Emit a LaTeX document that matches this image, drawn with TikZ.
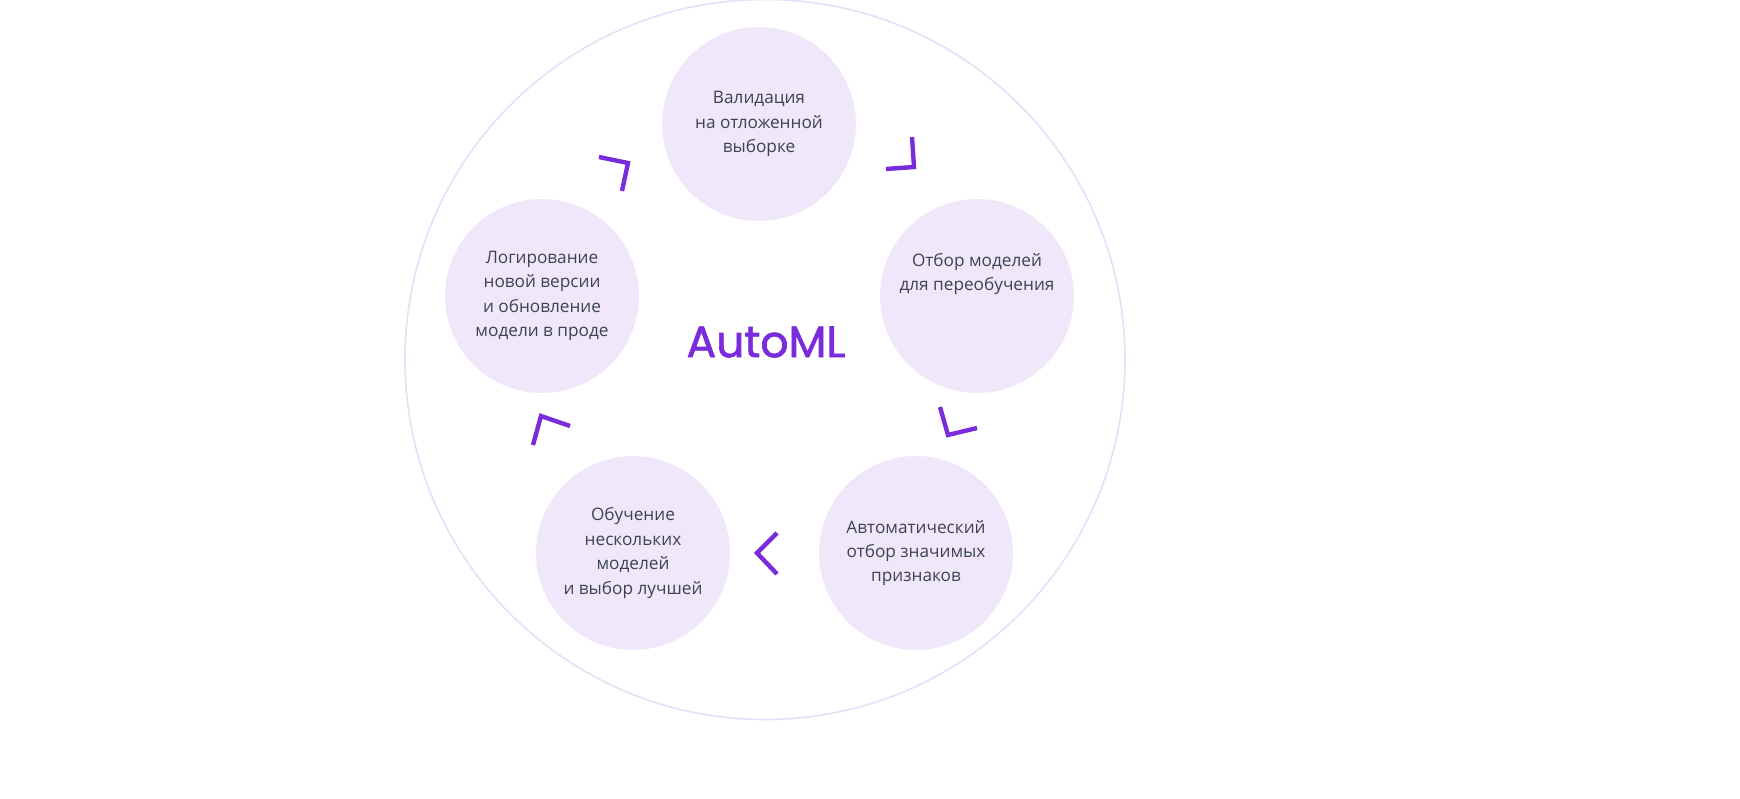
\documentclass[tikz,border=0pt]{standalone}
\usepackage{fontspec}
\setmainfont{Open Sans}
\newfontfamily\titlefont{Poppins}
\definecolor{cfill}{HTML}{F0E8FA}
\definecolor{ctext}{HTML}{3D4256}
\definecolor{cpur}{HTML}{7A2BDB}
\definecolor{cring}{HTML}{DDE3F8}
\begin{document}
\begin{tikzpicture}[x=0.5pt,y=-0.5pt,
  stage/.style={circle,fill=cfill,minimum size=97pt,inner sep=0pt,align=center,text=ctext,font=\fontsize{8.6}{12.2}\selectfont},
  chev/.style={draw=cpur,line width=2.2pt,line cap=butt,line join=miter}]
\useasboundingbox (0,0) rectangle (1740,798);
\node[circle,draw=cring,line width=0.8pt,minimum size=360pt,inner sep=0pt] (ring) at (765,359.5) {};
\node[stage] (a) at (759,124) {Валидация\\на отложенной\\выборке};
\node[stage] (b) at (977,296) {Отбор моделей\\для переобучения\\[12pt]};
\node[stage] (c) at (916,553) {Автоматический\\отбор значимых\\признаков};
\node[stage] (d) at (633,553) {Обучение\\нескольких\\моделей\\и выбор лучшей};
\node[stage] (e) at (542,296) {Логирование\\новой версии\\и обновление\\модели в проде};
\node[text=cpur,font=\fontsize{22}{28}\titlefont,
  postaction={}] (t) at (766,342) {\special{pdf:literal direct 2 Tr 0.35 w}AutoML\special{pdf:literal direct 0 Tr}};
\draw[chev] (599,157) -- (628,163) -- (622,191);
\draw[chev] (886,169) -- (914,167) -- (912,137);
\draw[chev] (940,407) -- (948,435) -- (977,428);
\draw[chev] (777,533) -- (757,553) -- (777,574);
\draw[chev] (533,445) -- (541,416) -- (570,426);
\end{tikzpicture}
\end{document}
